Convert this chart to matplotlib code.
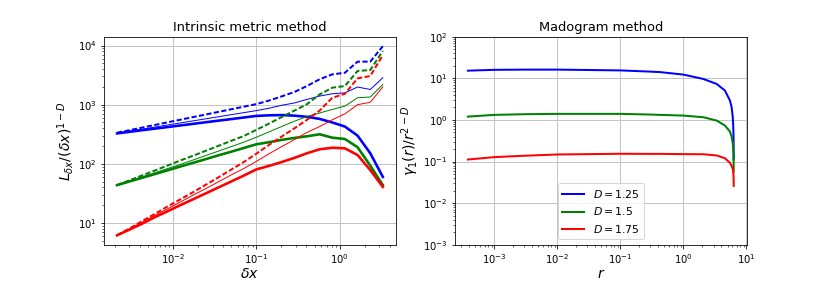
"""
Intrinsic metric vs madogram estimates of the fractal dimension D.
"""
import matplotlib
matplotlib.use('Agg')
import matplotlib.pyplot as plt

# === DATA ===
# left panel: step size dx and the normalised length for each D
dx = [0.00213, 0.00303, 0.00430, 0.00610, 0.00865, 0.01225, 0.0174, 0.0247,
      0.0350, 0.0497, 0.0705, 0.100, 0.142, 0.201, 0.286, 0.405, 0.575,
      0.815, 1.156, 1.64, 2.33, 3.30]

# D = 1.25
blue_dashed = [336, 372, 411, 455, 504, 557, 617, 682, 755, 836, 925, 1023,
               1175, 1380, 1640, 2070, 2690, 3260, 3470, 5350, 5350, 9770]
blue_thin = [330, 357, 387, 419, 454, 492, 533, 577, 625, 678, 733, 794,
             871, 977, 1070, 1230, 1400, 1530, 1585, 1990, 1810, 2860]
blue_thick = [327, 348, 371, 394, 419, 446, 474, 505, 537, 570, 607, 646,
              661, 668, 653, 624, 575, 501, 427, 300, 151, 60]

# D = 1.5
green_dashed = [43.6, 52.8, 64.0, 77.4, 93.8, 114, 137, 166, 201, 244, 295,
                376, 479, 617, 794, 1020, 1490, 1940, 2070, 3720, 3860, 8130]
green_thin = [43.6, 51.3, 60.3, 70.8, 83.2, 97.7, 116, 138, 164, 195, 232,
              282, 347, 427, 525, 631, 724, 832, 946, 1310, 1350, 2200]
green_thick = [43.6, 50.5, 58.3, 67.3, 77.8, 90.0, 104, 120, 139, 160, 185,
               214, 232, 254, 274, 292, 316, 277, 263, 191, 93.3, 43.6]

# D = 1.75
red_dashed = [6.17, 8.13, 10.8, 14.3, 19.1, 25.1, 33.1, 44.2, 58.9, 79.4, 107,
              148, 209, 288, 398, 555, 794, 1310, 1530, 2790, 3060, 6920]
red_thin = [6.17, 7.94, 10.4, 13.5, 17.4, 22.6, 29.5, 38.0, 49.5, 64.6, 83.2,
            110, 148, 195, 257, 339, 427, 555, 700, 1000, 1100, 2000]
red_thick = [6.17, 7.76, 9.77, 12.6, 15.8, 20.0, 25.1, 31.6, 39.8, 50.1, 63.1,
             80.4, 92.3, 107, 126, 151, 176, 187, 183, 141, 78.5, 40.7]

# right panel: lag r and normalised madogram for each D
r = [3.8e-4, 1e-3, 3e-3, 1e-2, 0.1, 0.3, 0.43, 1.0, 2.07, 3.37, 4.56, 5.47,
     5.8, 6.03, 6.15, 6.22, 6.255, 6.273]
mad_125 = [15.3, 16.0, 16.2, 16.2, 15.5, 14.5, 14.1, 12.3, 9.66, 7.33, 5.07,
           2.92, 2.06, 1.27, 0.785, 0.449, 0.244, 0.113]
mad_150 = [1.205, 1.324, 1.374, 1.40, 1.40, 1.349, 1.324, 1.274, 1.161, 0.966,
           0.733, 0.525, 0.402, 0.292, 0.211, 0.146, 0.097, 0.058]
mad_175 = [0.112, 0.128, 0.138, 0.148, 0.154, 0.153, 0.153, 0.151, 0.150,
           0.140, 0.120, 0.093, 0.079, 0.068, 0.058, 0.048, 0.038, 0.026]

D_labels = ['$D=1.25$', '$D=1.5$', '$D=1.75$']
COLORS = ['b', 'g', 'r']
GRID_COLOR = '#c4c4c4'

fig, (ax1, ax2) = plt.subplots(1, 2, figsize=(830 / 72, 306 / 72), dpi=72)
fig.subplots_adjust(bottom=0.2)

# ============================================================
# Left — intrinsic metric method
# ============================================================
groups = [(blue_dashed, blue_thin, blue_thick),
          (green_dashed, green_thin, green_thick),
          (red_dashed, red_thin, red_thick)]
for (dashed, thin, thick), c in zip(groups, COLORS):
    ax1.plot(dx, dashed, color=c, lw=2, linestyle='--', dashes=(2.6, 1.2))
    ax1.plot(dx, thin, color=c, lw=1)
    ax1.plot(dx, thick, color=c, lw=2.6)
ax1.set_xscale('log')
ax1.set_yscale('log')
ax1.grid(True, color=GRID_COLOR, lw=1)
ax1.set_title('Intrinsic metric method', fontsize=13)
ax1.set_xlabel(r'$\delta x$', fontsize=14, labelpad=1)
ax1.set_ylabel(r'$L_{\delta x}/(\delta x)^{1-D}$', fontsize=14, labelpad=2)

# ============================================================
# Right — madogram method
# ============================================================
for vals, c, lab in zip([mad_125, mad_150, mad_175], COLORS, D_labels):
    ax2.plot(r, vals, color=c, lw=2, label=lab)
ax2.set_xscale('log')
ax2.set_yscale('log')
ax2.set_ylim(1e-3, 1e2)
ax2.grid(True, color=GRID_COLOR, lw=1)
ax2.set_title('Madogram method', fontsize=13)
ax2.set_xlabel('$r$', fontsize=14, labelpad=1)
ax2.set_ylabel(r'$\gamma_1(r)/r^{2-D}$', fontsize=14, labelpad=2)
ax2.legend(loc='lower center', fontsize=11)

plt.savefig('out.png', dpi=72)
plt.close()
